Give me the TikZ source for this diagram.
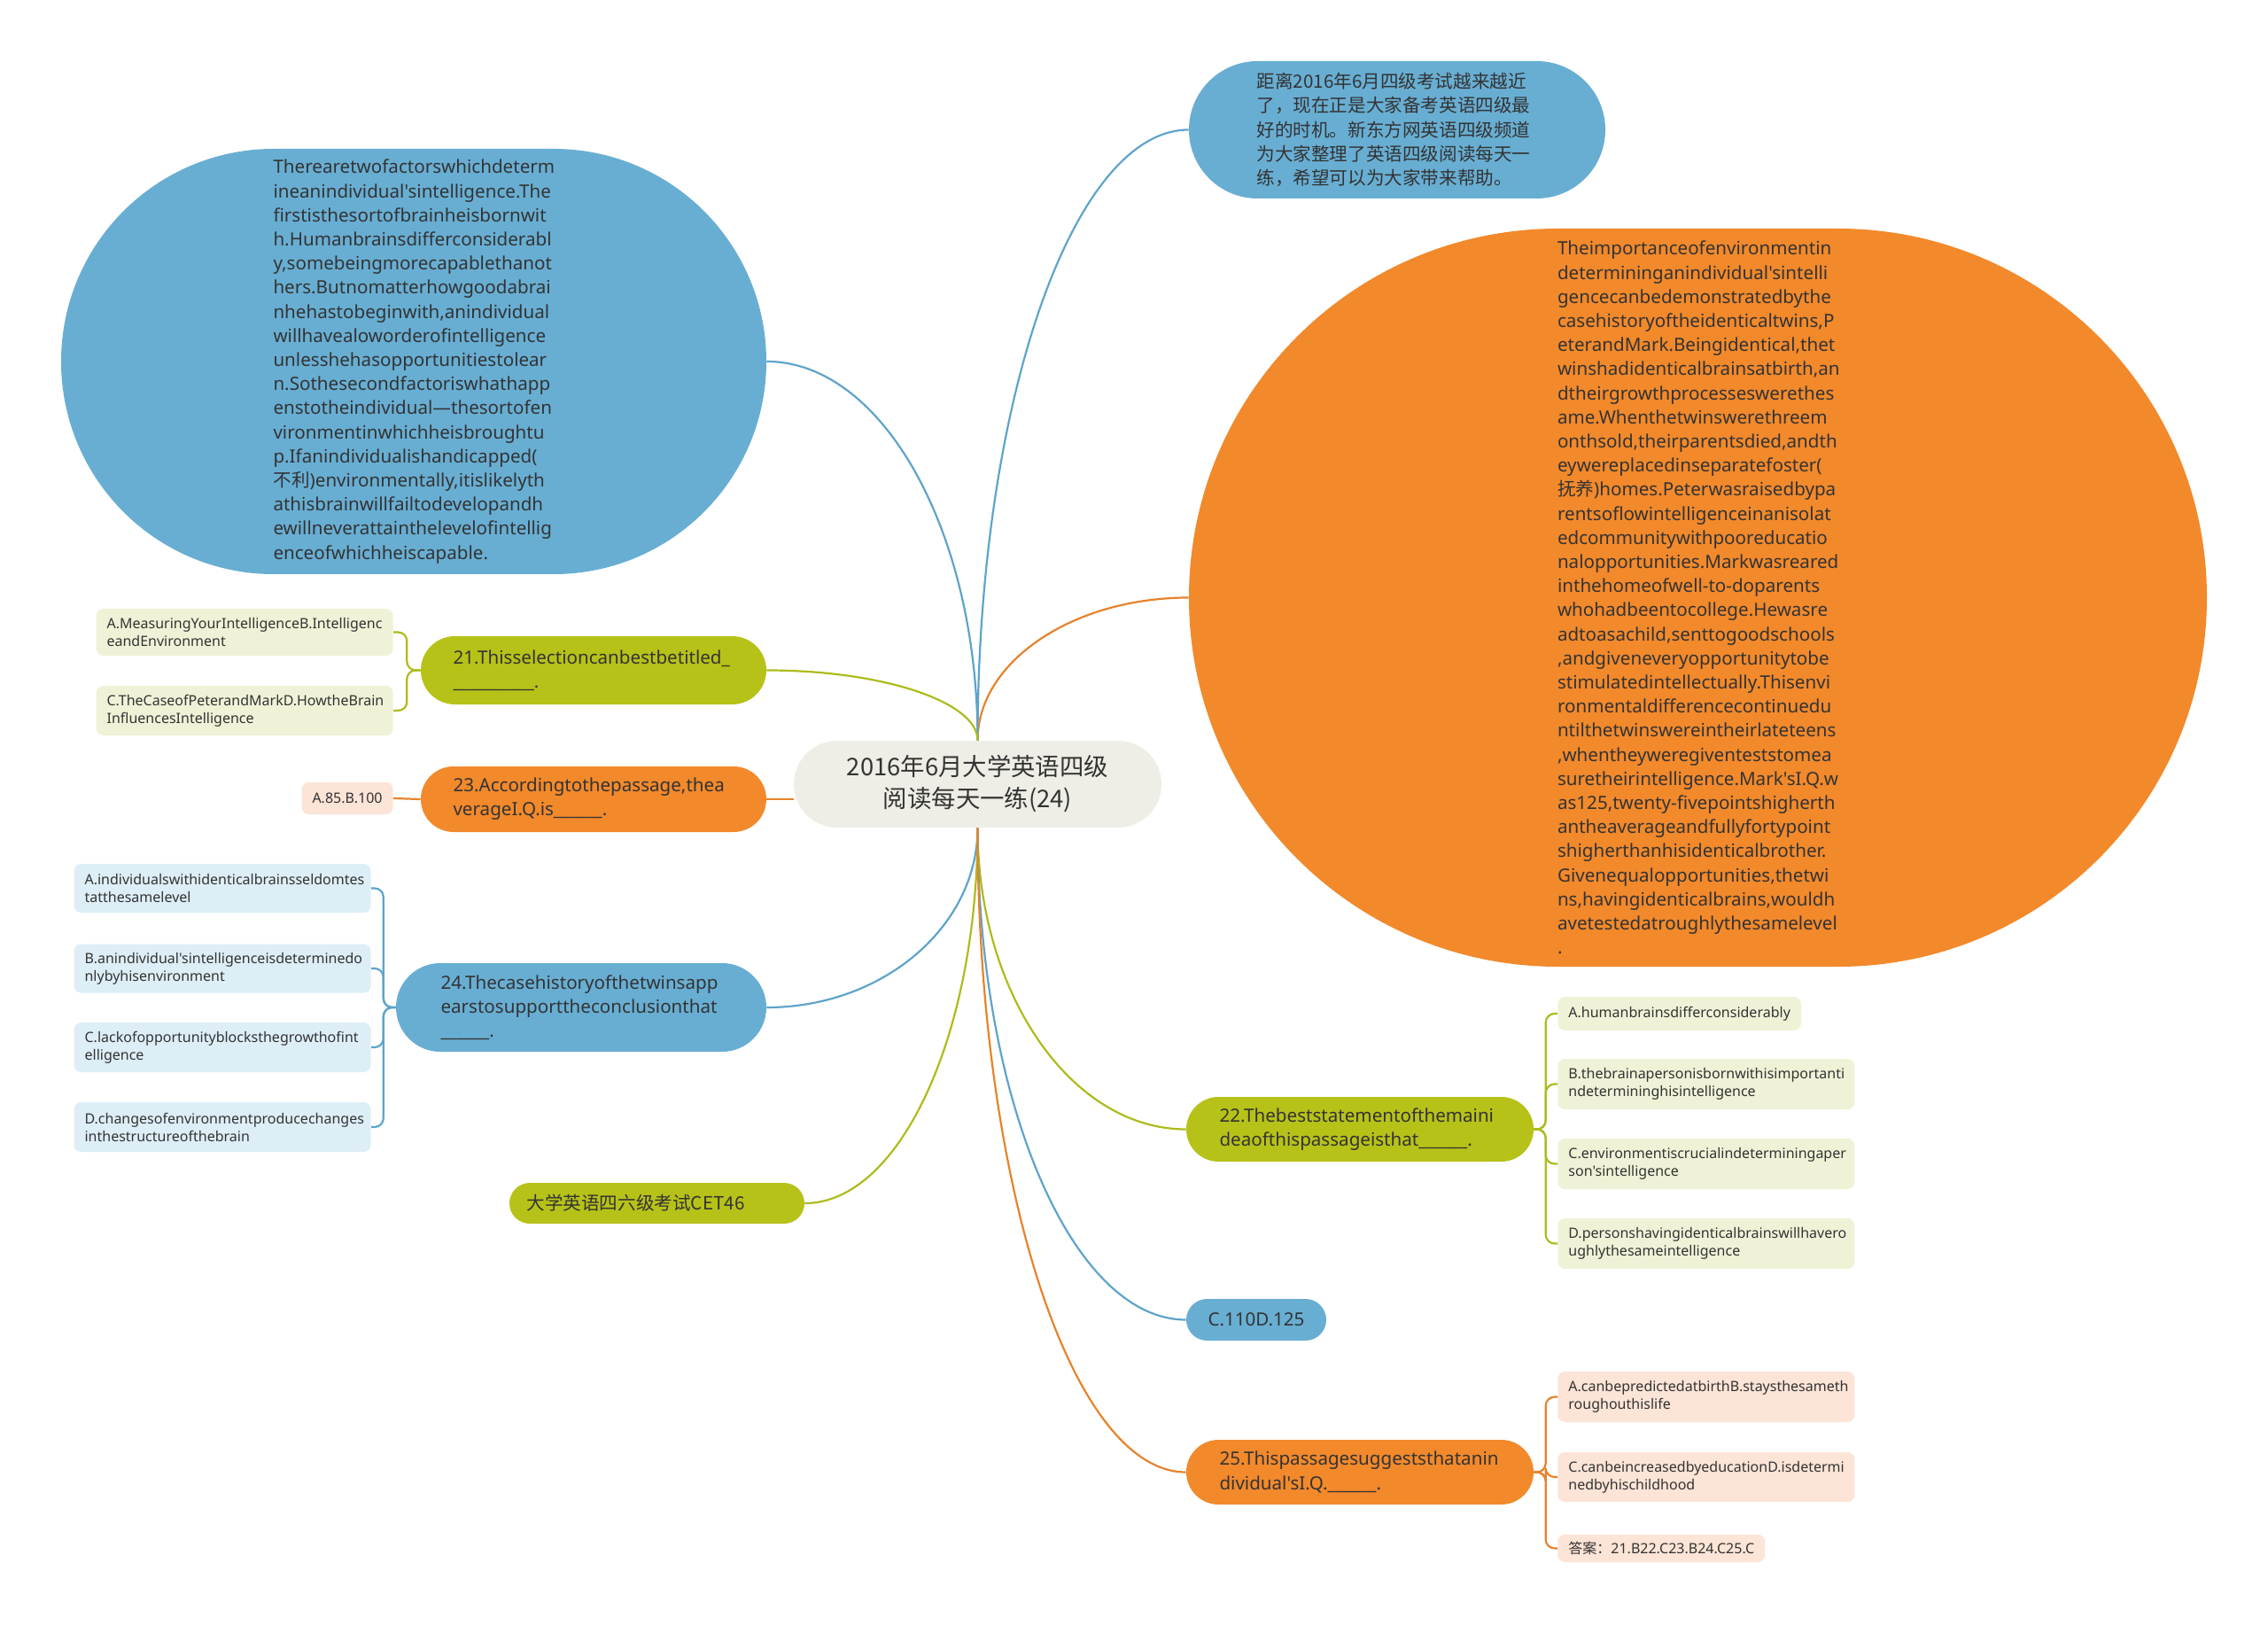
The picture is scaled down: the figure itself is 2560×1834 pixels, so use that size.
\documentclass[tikz,border=0pt]{standalone}
\usepackage{fontspec}
\setmainfont{Noto Sans}[Ligatures=TeXOff]
\newfontfamily\cjk{Noto Sans CJK SC}
\usepackage{tikz}
\usetikzlibrary{calc,positioning,shapes.misc}
\definecolor{bluec}{HTML}{68AED3}
\definecolor{orangec}{HTML}{F2892B}
\definecolor{greenc}{HTML}{B7C218}
\definecolor{rootc}{HTML}{EFEEE6}
\definecolor{bluel}{HTML}{DDEEF7}
\definecolor{orangel}{HTML}{FCE4D6}
\definecolor{greenl}{HTML}{F0F2D7}
\definecolor{blueln}{HTML}{5EA4CB}
\definecolor{orangeln}{HTML}{E6832C}
\definecolor{greenln}{HTML}{AEBB1C}
\definecolor{txtc}{HTML}{333333}
\newcommand\txtf{\fontsize{10.3}{13.6}\selectfont}
\newcommand\leaff{\fontsize{8}{10}\selectfont}
\newcommand\rootf{\cjk\fontsize{13.7}{18}\selectfont}
\tikzset{
  pill/.style={rounded rectangle,inner xsep=0pt,inner ysep=1pt,font=\txtf,text=txtc},
  main/.style={pill,text width=158.5pt,align=left},
  leaf/.style={rounded corners=4pt,inner xsep=6pt,inner ysep=2pt,align=left,font=\leaff,text=txtc},
  ln/.style={line width=1.1pt}
}
\begin{document}
\begin{tikzpicture}[x=0.5pt,y=-0.5pt]
\fill[white] (0,0) rectangle (2560,1834);
\useasboundingbox (0,0) rectangle (2560,1834);
% centre
\node[pill,fill=rootc,font=\rootf,align=center,minimum width=207.5pt,minimum height=49pt] (root) at (1103.5,885)
 {2016年6月大学英语四级\\阅读每天一练(24)};
% first level
\node[main,fill=bluec,font=\cjk\txtf,minimum width=235pt,minimum height=77.5pt] (intro) at (1577,146.5)
 {距离2016年6月四级考试越来越近\\了，现在正是大家备考英语四级最\\好的时机。新东方网英语四级频道\\为大家整理了英语四级阅读每天一\\练，希望可以为大家带来帮助。};
\node[main,fill=orangec,minimum width=574.5pt,minimum height=416.5pt] (passR) at (1916.5,674.5)
 {Theimportanceofenvironmentin\\determininganindividual'sintelli\\gencecanbedemonstratedbythe\\casehistoryoftheidenticaltwins,P\\eterandMark.Beingidentical,thet\\winshadidenticalbrainsatbirth,an\\dtheirgrowthprocesseswerethes\\ame.Whenthetwinswerethreem\\onthsold,theirparentsdied,andth\\eywereplacedinseparatefoster(\\{\cjk 抚养})homes.Peterwasraisedbypa\\rentsoflowintelligenceinanisolat\\edcommunitywithpooreducatio\\nalopportunities.Markwasreared\\inthehomeofwell-to-doparents\\whohadbeentocollege.Hewasre\\adtoasachild,senttogoodschools\\,andgiveneveryopportunitytobe\\stimulatedintellectually.Thisenvi\\ronmentaldifferencecontinuedu\\ntilthetwinswereintheirlateteens\\,whentheyweregiventeststomea\\suretheirintelligence.Mark'sI.Q.w\\as125,twenty-fivepointshigherth\\antheaverageandfullyfortypoint\\shigherthanhisidenticalbrother.\\Givenequalopportunities,thetwi\\ns,havingidenticalbrains,wouldh\\avetestedatroughlythesamelevel\\.};
\node[main,fill=bluec,minimum width=398pt,minimum height=240pt] (passL) at (467,408)
 {Therearetwofactorswhichdeterm\\ineanindividual'sintelligence.The\\firstisthesortofbrainheisbornwit\\h.Humanbrainsdifferconsiderabl\\y,somebeingmorecapablethanot\\hers.Butnomatterhowgoodabrai\\nhehastobeginwith,anindividual\\willhavealoworderofintelligence\\unlesshehasopportunitiestolear\\n.Sothesecondfactoriswhathapp\\enstotheindividual—thesortofen\\vironmentinwhichheisbroughtu\\p.Ifanindividualishandicapped(\\{\cjk 不利})environmentally,itislikelyth\\athisbrainwillfailtodevelopandh\\ewillneverattainthelevelofintellig\\enceofwhichheiscapable.};
\node[main,fill=greenc,minimum width=195pt,minimum height=38.5pt] (q21) at (670,756.5)
 {21.Thisselectioncanbestbetitled\_\\\_\_\_\_\_\_\_\_\_\_.};
\node[main,fill=orangec,minimum width=195pt,minimum height=37pt] (q23) at (670,902)
 {23.Accordingtothepassage,thea\\verageI.Q.is\_\_\_\_\_\_.};
\node[main,fill=bluec,minimum width=209pt,minimum height=50pt] (q24) at (656,1137)
 {24.Thecasehistoryofthetwinsapp\\earstosupporttheconclusionthat\\\_\_\_\_\_\_.};
\node[pill,fill=greenc,font=\cjk\txtf,minimum width=166.5pt,minimum height=23pt] (cet) at (741.5,1358)
 {大学英语四六级考试CET46\hspace*{24pt}};
\node[main,fill=greenc,minimum width=196pt,minimum height=36.5pt] (q22) at (1535,1274.5)
 {22.Thebeststatementofthemaini\\deaofthispassageisthat\_\_\_\_\_\_.};
\node[pill,fill=bluec,minimum width=79pt,minimum height=23.5pt] (ans110) at (1418,1489.5)
 {C.110D.125};
\node[main,fill=orangec,minimum width=196pt,minimum height=36.5pt] (q25) at (1535,1661.5)
 {25.Thispassagesuggeststhatanin\\dividual'sI.Q.\_\_\_\_\_\_.};
% options
\node[leaf,fill=greenl,text width=155.5pt,minimum height=26.5pt,anchor=east] (q21a) at (444,713.5)
 {A.MeasuringYourIntelligenceB.Intelligenc\\eandEnvironment};
\node[leaf,fill=greenl,text width=155.5pt,minimum height=28pt,anchor=east] (q21c) at (444,802)
 {C.TheCaseofPeterandMarkD.HowtheBrain\\InfluencesIntelligence};
\node[leaf,fill=orangel,minimum height=18pt,anchor=east] (q23a) at (444,901) {A.85.B.100};
\node[leaf,fill=bluel,text width=155.5pt,minimum height=27.5pt,anchor=east] (q24a) at (419,1002.5)
 {A.individualswithidenticalbrainsseldomtes\\tatthesamelevel};
\node[leaf,fill=bluel,text width=155.5pt,minimum height=27.5pt,anchor=east] (q24b) at (419,1093)
 {B.anindividual'sintelligenceisdeterminedo\\nlybyhisenvironment};
\node[leaf,fill=bluel,text width=155.5pt,minimum height=28pt,anchor=east] (q24c) at (419,1182)
 {C.lackofopportunityblocksthegrowthofint\\elligence};
\node[leaf,fill=bluel,text width=155.5pt,minimum height=28pt,anchor=east] (q24d) at (419,1272)
 {D.changesofenvironmentproducechanges\\inthestructureofthebrain};
\node[leaf,fill=greenl,minimum height=19pt,anchor=west] (q22a) at (1758,1144)
 {A.humanbrainsdifferconsiderably};
\node[leaf,fill=greenl,text width=155.5pt,minimum height=28.5pt,anchor=west] (q22b) at (1758,1223.5)
 {B.thebrainapersonisbornwithisimportanti\\ndetermininghisintelligence};
\node[leaf,fill=greenl,text width=155.5pt,minimum height=28.5pt,anchor=west] (q22c) at (1758,1313.5)
 {C.environmentiscrucialindeterminingaper\\son'sintelligence};
\node[leaf,fill=greenl,text width=155.5pt,minimum height=28.5pt,anchor=west] (q22d) at (1758,1403.5)
 {D.personshavingidenticalbrainswillhavero\\ughlythesameintelligence};
\node[leaf,fill=orangel,text width=155.5pt,minimum height=28.5pt,anchor=west] (q25a) at (1758,1576.5)
 {A.canbepredictedatbirthB.staysthesameth\\roughouthislife};
\node[leaf,fill=orangel,text width=155.5pt,minimum height=28pt,anchor=west] (q25c) at (1758,1667)
 {C.canbeincreasedbyeducationD.isdetermi\\nedbyhischildhood};
\node[leaf,fill=orangel,minimum height=15.5pt,anchor=west] (q25k) at (1758,1747.5)
 {{\cjk 答案：}21.B22.C23.B24.C25.C};
% branches from the centre
\foreach \s/\t/\a/\c in {north/intro/west/blueln,north/passR/west/orangeln,north/passL/east/blueln,north/q21/east/greenln,
  south/q24/east/blueln,south/cet/east/greenln,south/q22/west/greenln,south/ans110/west/blueln,south/q25/west/orangeln}
 \draw[ln,\c] (root.\s) .. controls ($(root.\s)!0.55!(root.\s|-\t.\a)$) and ($(\t.\a)!0.55!(root.\s|-\t.\a)$) .. (\t.\a);
\draw[ln,orangeln] (q23.east) -- (root.west|-q23.east);
% option brackets
\coordinate (b21) at ($(q21.west)!0.5!(q21a.east|-q21.west)$);
\coordinate (b24) at ($(q24.west)!0.5!(q24a.east|-q24.west)$);
\coordinate (b22) at ($(q22.east)!0.5!(q22a.west|-q22.east)$);
\coordinate (b25) at ($(q25.east)!0.5!(q25a.west|-q25.east)$);
\foreach \c in {q21a,q21c}\draw[ln,greenln,rounded corners=5pt] (q21.west) -- (b21) |- (\c.east);
\foreach \c in {q24a,q24b,q24c,q24d}\draw[ln,blueln,rounded corners=5pt] (q24.west) -- (b24) |- (\c.east);
\foreach \c in {q22a,q22b,q22c,q22d}\draw[ln,greenln,rounded corners=5pt] (q22.east) -- (b22) |- (\c.west);
\foreach \c in {q25a,q25c,q25k}\draw[ln,orangeln,rounded corners=5pt] (q25.east) -- (b25) |- (\c.west);
\draw[ln,orangeln] (q23.west) -- (q23a.east);
\end{tikzpicture}
\end{document}
